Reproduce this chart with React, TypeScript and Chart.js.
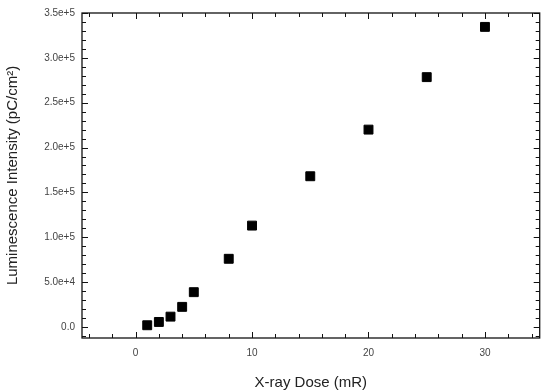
import React, { useEffect, useRef } from "react";
import { Chart, registerables } from "chart.js";

Chart.register(...registerables);

const doseValues = [1, 2, 3, 4, 5, 8, 10, 15, 20, 25, 30];
const intensityValues = [1900, 5600, 11500, 22400, 38800, 76000, 113000, 168000, 220000, 278500, 334500];
const xTickValues = [0, 10, 20, 30];
const yTickValues = [0, 50000, 100000, 150000, 200000, 250000, 300000, 350000];
const yTickLabels = ["0.0", "5.0e+4", "1.0e+5", "1.5e+5", "2.0e+5", "2.5e+5", "3.0e+5", "3.5e+5"];
const xMinorStep = 2;
const yMinorStep = 10000;

const framePlugin = {
  id: "frameTicks",
  afterDatasetsDraw(chart: any) {
    const { ctx, chartArea, scales } = chart;
    const { left, right, top, bottom } = chartArea;
    ctx.save();
    ctx.strokeStyle = "#111";
    ctx.lineWidth = 1.3;
    ctx.strokeRect(left, top, right - left, bottom - top);
    ctx.lineWidth = 1;
    const xs = scales.x;
    const ys = scales.y;
    const startX = Math.ceil(xs.min / xMinorStep) * xMinorStep;
    for (let v = startX; v <= xs.max; v += xMinorStep) {
      const px = Math.round(xs.getPixelForValue(v)) + 0.5;
      const len = v % 10 === 0 ? 6 : 4;
      ctx.beginPath();
      ctx.moveTo(px, bottom);
      ctx.lineTo(px, bottom - len);
      ctx.moveTo(px, top);
      ctx.lineTo(px, top + len);
      ctx.stroke();
    }
    const startY = Math.ceil(ys.min / yMinorStep) * yMinorStep;
    for (let v = startY; v <= ys.max + 1; v += yMinorStep) {
      const py = Math.round(ys.getPixelForValue(v)) + 0.5;
      const len = v % 50000 === 0 ? 6 : 4;
      ctx.beginPath();
      ctx.moveTo(left, py);
      ctx.lineTo(left + len, py);
      ctx.moveTo(right, py);
      ctx.lineTo(right - len, py);
      ctx.stroke();
    }
    ctx.restore();
  },
};

export default function App() {
  const ref = useRef<HTMLCanvasElement | null>(null);
  useEffect(() => {
    if (!ref.current) return;
    const chart = new Chart(ref.current, {
      type: "scatter",
      data: {
        datasets: [
          {
            data: doseValues.map((x, i) => ({ x, y: intensityValues[i] })),
            pointStyle: "rect",
            pointRadius: 6.3,
            pointBackgroundColor: "#000",
            pointBorderColor: "#000",
            pointBorderWidth: 1,
          },
        ],
      },
      options: {
        animation: false,
        responsive: false,
        layout: { padding: { top: 13, right: 3, left: 0, bottom: 0 } },
        plugins: { legend: { display: false }, tooltip: { enabled: false } },
        scales: {
          x: {
            type: "linear",
            min: -4.6,
            max: 34.7,
            grid: { display: false, drawTicks: false },
            border: { display: false },
            afterBuildTicks: (s: any) => {
              s.ticks = xTickValues.map((v) => ({ value: v }));
            },
            afterFit: (s: any) => {
              s.height = 54;
            },
            ticks: {
              padding: 9,
              color: "#444",
              font: { family: "Liberation Sans", size: 10 },
              maxRotation: 0,
              callback: (v: any) => String(v),
            },
            title: {
              display: true,
              text: "X-ray Dose (mR)",
              color: "#222",
              font: { family: "Liberation Sans", size: 15 },
              padding: { top: 4, bottom: 0 },
            },
          },
          y: {
            type: "linear",
            min: -12300,
            max: 350000,
            grid: { display: false, drawTicks: false },
            border: { display: false },
            afterBuildTicks: (s: any) => {
              s.ticks = yTickValues.map((v) => ({ value: v }));
            },
            afterFit: (s: any) => {
              s.width = 82;
            },
            ticks: {
              padding: 7,
              color: "#444",
              font: { family: "Liberation Sans", size: 10 },
              callback: (_v: any, i: number) => yTickLabels[i],
            },
            title: {
              display: true,
              text: "Luminescence Intensity (pC/cm²)",
              color: "#222",
              font: { family: "Liberation Sans", size: 15 },
              padding: { top: 4, bottom: 0 },
            },
          },
        },
      },
      plugins: [framePlugin],
    } as any);
    return () => chart.destroy();
  }, []);
  return (
    <div style={{ position: "absolute", left: 0, top: 0, width: 547, height: 392, background: "#fff" }}>
      <canvas ref={ref} width={547} height={392} />
    </div>
  );
}
